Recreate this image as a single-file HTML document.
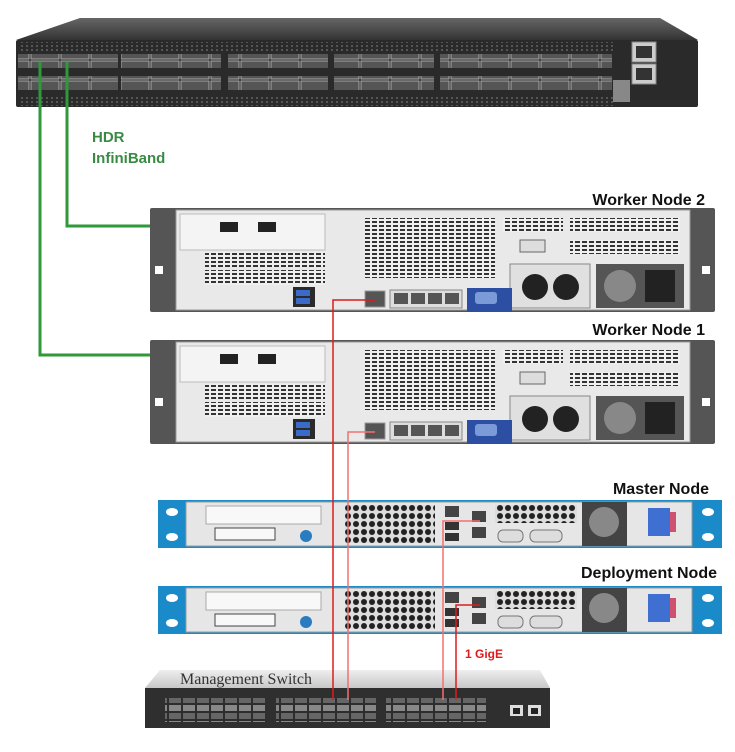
<!DOCTYPE html>
<html><head><style>
body{margin:0;background:#fff;width:735px;height:752px;overflow:hidden}
svg{display:block}
text{font-family:"Liberation Sans",sans-serif;font-weight:bold}
</style></head><body>
<svg width="735" height="752" xmlns="http://www.w3.org/2000/svg">
<defs>
<pattern id="vent" width="5" height="4" patternUnits="userSpaceOnUse"><rect width="5" height="4" fill="#2a2a2a"/><rect x="1" y="1" width="2" height="2" fill="#555"/></pattern>
<pattern id="grid" width="7" height="4" patternUnits="userSpaceOnUse"><rect width="7" height="4" fill="#efefef"/><rect x="1" y="1" width="5" height="2" fill="#333"/></pattern>
<pattern id="hex" width="8" height="8" patternUnits="userSpaceOnUse"><rect width="8" height="8" fill="#ddd"/><circle cx="4" cy="4" r="3" fill="#222"/></pattern>
<pattern id="port" width="14" height="16" patternUnits="userSpaceOnUse"><rect width="14" height="16" fill="#2d2d2d"/><rect x="1" y="1" width="12" height="6" fill="#888"/><rect x="1" y="9" width="12" height="6" fill="#666"/></pattern>
<pattern id="qsfp" width="30" height="20" patternUnits="userSpaceOnUse"><rect width="30" height="20" fill="#333"/><rect x="1" y="1" width="28" height="18" fill="#555" stroke="#bbb" stroke-width="0.8"/></pattern>
<linearGradient id="top" x1="0" y1="0" x2="0" y2="1"><stop offset="0" stop-color="#666"/><stop offset="1" stop-color="#333"/></linearGradient>
<linearGradient id="mtop" x1="0" y1="0" x2="0" y2="1"><stop offset="0" stop-color="#eee"/><stop offset="1" stop-color="#c8c8c8"/></linearGradient>
</defs>

<polygon points="80,18 660,18 698,40 16,40" fill="url(#top)"/>
<rect x="16" y="40" width="682" height="67" rx="2" fill="#2a2a2a"/>
<rect x="18" y="42" width="596" height="10" fill="url(#vent)"/>
<rect x="18" y="96" width="596" height="10" fill="url(#vent)"/>
<rect x="18" y="54" width="100" height="14" fill="url(#qsfp)"/>
<rect x="121" y="54" width="100" height="14" fill="url(#qsfp)"/>
<rect x="228" y="54" width="100" height="14" fill="url(#qsfp)"/>
<rect x="334" y="54" width="100" height="14" fill="url(#qsfp)"/>
<rect x="18" y="76" width="100" height="14" fill="url(#qsfp)"/>
<rect x="121" y="76" width="100" height="14" fill="url(#qsfp)"/>
<rect x="228" y="76" width="100" height="14" fill="url(#qsfp)"/>
<rect x="334" y="76" width="100" height="14" fill="url(#qsfp)"/>
<rect x="440" y="54" width="172" height="14" fill="url(#qsfp)"/>
<rect x="440" y="76" width="172" height="14" fill="url(#qsfp)"/>
<rect x="632" y="42" width="24" height="20" fill="#ccc" stroke="#888"/>
<rect x="632" y="64" width="24" height="20" fill="#ccc" stroke="#888"/>
<rect x="636" y="46" width="16" height="12" fill="#333"/>
<rect x="636" y="68" width="16" height="12" fill="#333"/>
<rect x="613" y="80" width="17" height="22" fill="#888"/>

<polyline points="40,62 40,355 230,355" fill="none" stroke="#2e9a3a" stroke-width="3"/>
<polyline points="67,62 67,226 230,226" fill="none" stroke="#2e9a3a" stroke-width="3"/>
<text x="92" y="142" font-size="15" fill="#3a8a45">HDR</text>
<text x="92" y="163" font-size="15" fill="#3a8a45">InfiniBand</text>

<g id="w2">
<rect x="150" y="208" width="565" height="104" fill="#555" rx="2"/>
<rect x="176" y="210" width="514" height="100" fill="#e9e9e9" stroke="#999"/>
<rect x="180" y="214" width="145" height="36" fill="#f4f4f4" stroke="#bbb"/>
<rect x="220" y="222" width="18" height="10" fill="#222"/>
<rect x="258" y="222" width="18" height="10" fill="#222"/>
<rect x="205" y="252" width="120" height="15" fill="url(#grid)"/>
<rect x="205" y="270" width="120" height="15" fill="url(#grid)"/>
<rect x="365" y="218" width="130" height="60" fill="url(#grid)"/>
<rect x="503" y="218" width="60" height="14" fill="url(#grid)"/>
<rect x="570" y="218" width="110" height="14" fill="url(#grid)"/>
<rect x="570" y="240" width="110" height="14" fill="url(#grid)"/>
<rect x="520" y="240" width="25" height="12" fill="#ddd" stroke="#666"/>
<rect x="510" y="264" width="80" height="44" fill="#e0e0e0" stroke="#888"/>
<circle cx="535" cy="287" r="13" fill="#222"/><circle cx="566" cy="287" r="13" fill="#222"/>
<rect x="596" y="264" width="88" height="44" fill="#555"/>
<circle cx="620" cy="286" r="16" fill="#888"/>
<rect x="645" y="270" width="30" height="32" fill="#222"/>
<rect x="293" y="287" width="22" height="20" fill="#2a2a2a"/>
<rect x="296" y="290" width="14" height="6" fill="#3a6bc8"/><rect x="296" y="298" width="14" height="6" fill="#3a6bc8"/>
<rect x="365" y="291" width="20" height="16" fill="#555" stroke="#999"/>
<rect x="390" y="290" width="72" height="18" fill="#ddd" stroke="#888"/>
<rect x="394" y="293" width="14" height="11" fill="#555"/><rect x="411" y="293" width="14" height="11" fill="#555"/><rect x="428" y="293" width="14" height="11" fill="#555"/><rect x="445" y="293" width="14" height="11" fill="#555"/>
<rect x="467" y="288" width="45" height="24" fill="#2c4fa3"/>
<rect x="475" y="292" width="22" height="12" fill="#7a9ad8" rx="3"/>
<rect x="155" y="266" width="8" height="8" fill="#fff"/><rect x="702" y="266" width="8" height="8" fill="#fff"/>
</g>
<use href="#w2" transform="translate(0,132)"/>
<text x="705" y="205" font-size="16" text-anchor="end" fill="#111">Worker Node 2</text>
<text x="705" y="335" font-size="16" text-anchor="end" fill="#111">Worker Node 1</text>

<g id="m">
<rect x="158" y="500" width="564" height="48" fill="#1a8ac8"/>
<ellipse cx="172" cy="512" rx="6" ry="4" fill="#fff"/><ellipse cx="172" cy="537" rx="6" ry="4" fill="#fff"/>
<ellipse cx="708" cy="512" rx="6" ry="4" fill="#fff"/><ellipse cx="708" cy="537" rx="6" ry="4" fill="#fff"/>
<rect x="186" y="502" width="506" height="44" fill="#e6e6e6" stroke="#999"/>
<rect x="206" y="506" width="115" height="18" fill="#f8f8f8" stroke="#aaa"/>
<rect x="215" y="528" width="60" height="12" fill="#f8f8f8" stroke="#444"/>
<circle cx="306" cy="536" r="6" fill="#2a7cc0"/>
<rect x="345" y="505" width="90" height="38" fill="url(#hex)"/>
<rect x="445" y="506" width="14" height="11" fill="#444"/>
<rect x="472" y="511" width="14" height="11" fill="#444"/>
<rect x="472" y="527" width="14" height="11" fill="#444"/>
<rect x="445" y="522" width="14" height="8" fill="#333"/><rect x="445" y="533" width="14" height="8" fill="#333"/>
<rect x="495" y="505" width="82" height="18" fill="url(#hex)"/>
<rect x="498" y="530" width="25" height="12" rx="5" fill="#ddd" stroke="#777"/>
<rect x="530" y="530" width="32" height="12" rx="5" fill="#ddd" stroke="#777"/>
<rect x="582" y="502" width="45" height="44" fill="#444"/>
<circle cx="604" cy="522" r="15" fill="#888"/>
<rect x="648" y="508" width="22" height="28" fill="#3f6fd0"/>
<rect x="670" y="512" width="6" height="20" fill="#d05070"/>
</g>
<use href="#m" transform="translate(0,86)"/>
<text x="709" y="494" font-size="16" text-anchor="end" fill="#111">Master Node</text>
<text x="717" y="578" font-size="16" text-anchor="end" fill="#111">Deployment Node</text>

<polygon points="160,670 540,670 550,688 145,688" fill="url(#mtop)"/>
<rect x="145" y="688" width="405" height="40" fill="#2f2f2f"/>
<rect x="165" y="698" width="100" height="24" fill="url(#port)"/>
<rect x="276" y="698" width="100" height="24" fill="url(#port)"/>
<rect x="386" y="698" width="100" height="24" fill="url(#port)"/>
<rect x="510" y="705" width="13" height="11" fill="#ddd"/><rect x="528" y="705" width="13" height="11" fill="#ddd"/>
<rect x="513" y="708" width="7" height="6" fill="#222"/><rect x="531" y="708" width="7" height="6" fill="#222"/>
<text x="180" y="684" font-size="16" style="font-family:'Liberation Serif',serif;font-weight:normal" fill="#333">Management Switch</text>

<polyline points="375,300 333,300 333,700" fill="none" stroke="#e01a1a" stroke-width="1.5"/>
<polyline points="375,432 348,432 348,700" fill="none" stroke="#f07070" stroke-width="1.5"/>
<polyline points="480,521 443,521 443,700" fill="none" stroke="#f07070" stroke-width="1.5"/>
<polyline points="480,605 456,605 456,700" fill="none" stroke="#e01a1a" stroke-width="1.5"/>
<text x="465" y="658" font-size="12" fill="#e01a1a">1 GigE</text>
</svg>
</body></html>
